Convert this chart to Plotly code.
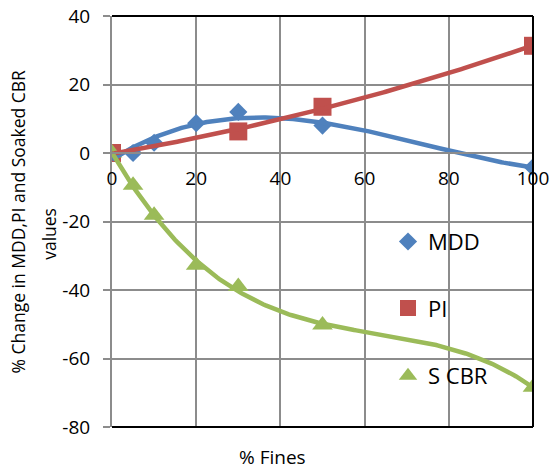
import numpy as np
import plotly.graph_objects as go

# ---- data ----
fines_mdd = [0, 5, 10, 20, 30, 50, 100]
mdd = [0, 0, 3, 8.7, 12, 8, -4.2]
fines_pi = [0, 30, 50, 100]
pi = [0, 6.3, 13.5, 31.3]
fines_cbr = [0, 5, 10, 20, 30, 50, 100]
s_cbr = [0, -9.4, -18.2, -32.8, -39, -50.2, -68.4]

x_ticks = [0, 20, 40, 60, 80, 100]
y_ticks = [-80, -60, -40, -20, 0, 20, 40]
x_tick_text = [str(v) for v in x_ticks]
y_tick_text = [str(v) for v in y_ticks]

BLUE = "#4F81BD"
RED = "#C0504D"
GREEN = "#9BBB59"
GRID = "#8C8C8C"
FONT = "Open Sans"

# polynomial trendlines (like Excel) computed from the data
xs = np.linspace(0, 100, 201)
mdd_fit = np.polyval(np.polyfit(fines_mdd, mdd, 3), xs)
pi_fit = np.polyval(np.polyfit(fines_pi, pi, 2), xs)
cbr_fit = np.polyval(np.polyfit(fines_cbr, s_cbr, 3), xs)

fig = go.Figure()

fig.add_trace(go.Scatter(x=fines_mdd, y=mdd, mode="markers", name="MDD",
                         marker=dict(symbol="diamond", size=14, color=BLUE),
                         legend="legend"))
fig.add_trace(go.Scatter(x=fines_pi, y=pi, mode="markers", name="PI",
                         marker=dict(symbol="square", size=18, color=RED),
                         legend="legend2"))
fig.add_trace(go.Scatter(x=fines_cbr, y=s_cbr, mode="markers", name="S CBR",
                         marker=dict(symbol="triangle-up", size=18, color=GREEN),
                         legend="legend3"))
fig.add_trace(go.Scatter(x=xs, y=mdd_fit, mode="lines", showlegend=False,
                         line=dict(color=BLUE, width=4.5), hoverinfo="skip"))
fig.add_trace(go.Scatter(x=xs, y=pi_fit, mode="lines", showlegend=False,
                         line=dict(color=RED, width=4.5), hoverinfo="skip"))
fig.add_trace(go.Scatter(x=xs, y=cbr_fit, mode="lines", showlegend=False,
                         line=dict(color=GREEN, width=4.5), hoverinfo="skip"))

leg_common = dict(xanchor="left", yanchor="middle", bgcolor="rgba(0,0,0,0)",
                  font=dict(family=FONT, size=22, color="#000000"))

fig.update_layout(
    width=550, height=471,
    margin=dict(l=112, r=17, t=16, b=44, autoexpand=False),
    paper_bgcolor="white", plot_bgcolor="white",
    font=dict(family=FONT, size=19, color="#000000"),
    xaxis=dict(range=[0, 100], tickvals=x_ticks, ticktext=x_tick_text,
               showgrid=True, gridcolor=GRID, gridwidth=1.5, automargin=False,
               zeroline=False, showline=True, linecolor=GRID, linewidth=2,
               anchor="free", position=80 / 120, ticks="", ticklabelstandoff=8,
               tickfont=dict(family=FONT, size=19)),
    yaxis=dict(range=[-80, 40], tickvals=y_ticks, ticktext=y_tick_text,
               showgrid=True, gridcolor=GRID, gridwidth=1.5, automargin=False,
               zeroline=False, showline=True, linecolor=GRID, linewidth=2,
               ticks="outside", ticklen=7, tickcolor=GRID, tickwidth=1.5, ticklabelstandoff=9,
               tickfont=dict(family=FONT, size=19)),
    legend=dict(x=0.6556, y=0.4509, **leg_common),
    legend2=dict(x=0.6556, y=0.2888, **leg_common),
    legend3=dict(x=0.6556, y=0.1241, **leg_common),
    shapes=[
        dict(type="line", xref="paper", yref="paper", x0=0, x1=1, y0=1, y1=1,
             line=dict(color="black", width=2)),
        dict(type="line", xref="paper", yref="paper", x0=1, x1=1, y0=0, y1=1,
             line=dict(color="black", width=2)),
        dict(type="line", xref="paper", yref="paper", x0=0, x1=1, y0=0, y1=0,
             line=dict(color="black", width=2)),
    ],
    annotations=[
        dict(text="% Change in MDD,PI and Soaked CBR", textangle=-90,
             xref="paper", yref="paper", x=(17 - 112) / 421, y=0.5,
             xanchor="center", yanchor="middle",
             showarrow=False, font=dict(family=FONT, size=17.5, color="#000000")),
        dict(text="values", textangle=-90,
             xref="paper", yref="paper", x=(49 - 112) / 421, y=0.47,
             xanchor="center", yanchor="middle",
             showarrow=False, font=dict(family=FONT, size=17.5, color="#000000")),
        dict(text="% Fines", xref="paper", yref="paper", x=0.3824, y=-0.073,
             xanchor="center", yanchor="middle", showarrow=False,
             font=dict(family=FONT, size=19, color="#000000")),
    ],
)

fig.write_html("out.html")
